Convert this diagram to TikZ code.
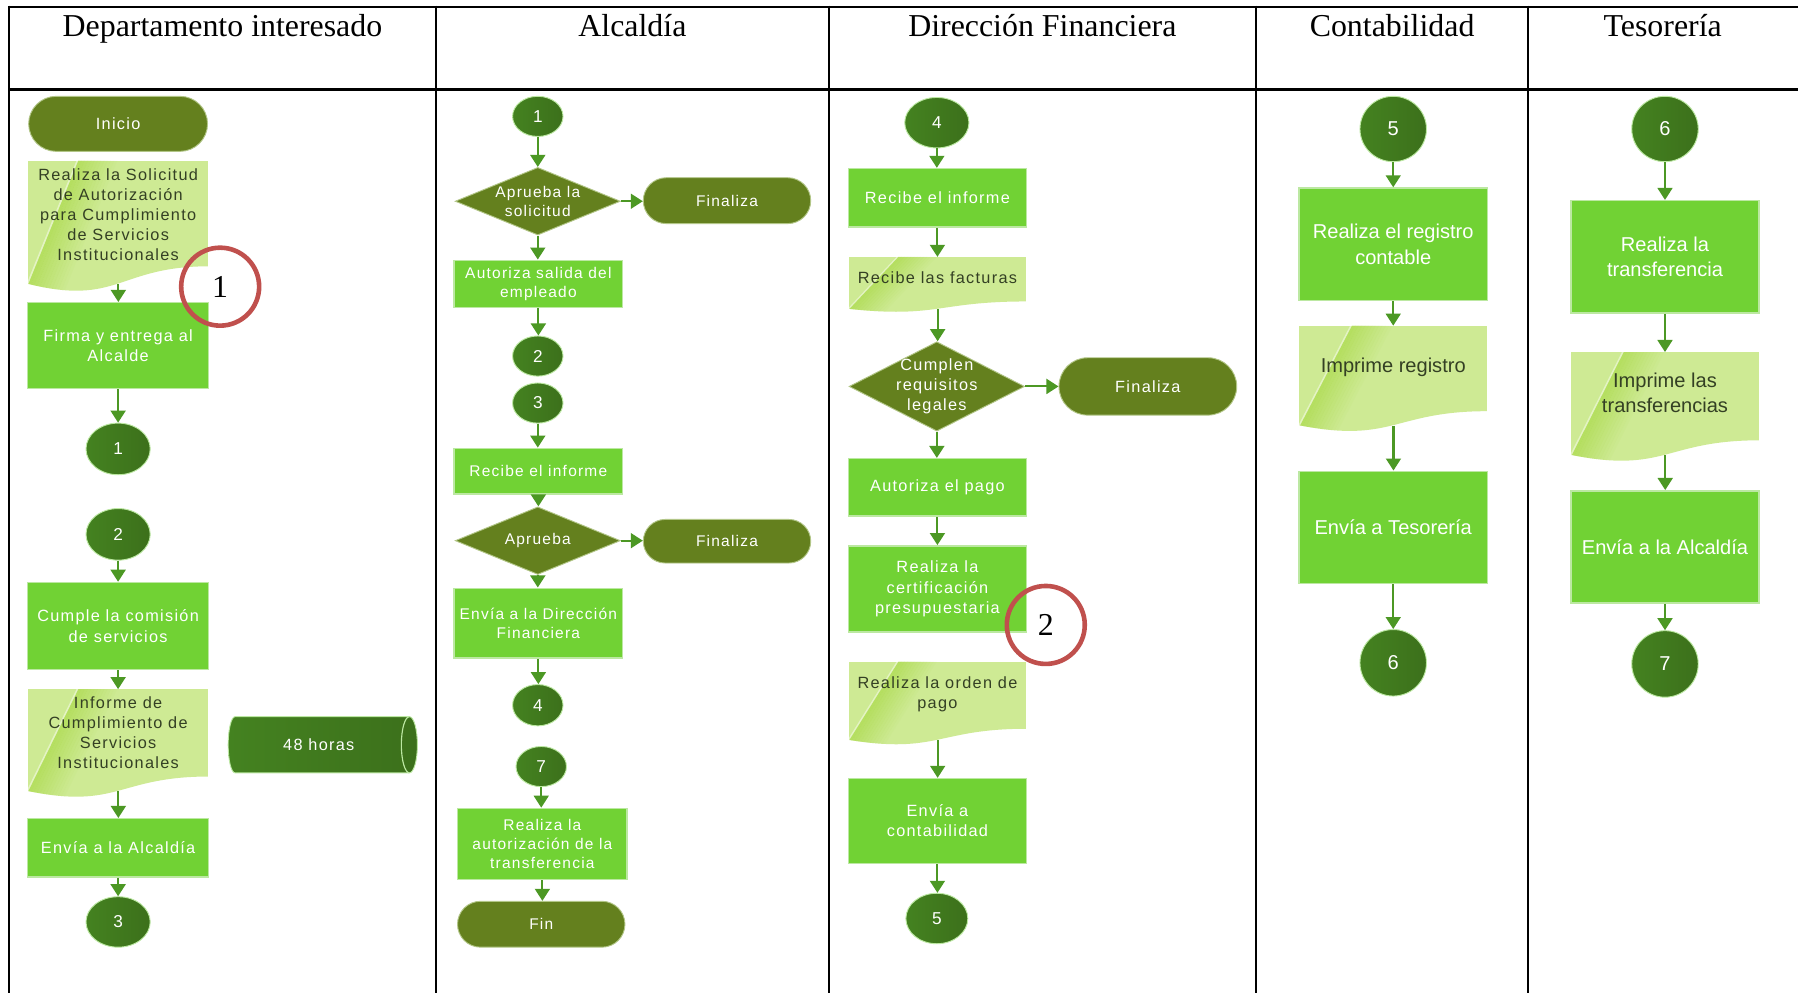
\documentclass[tikz,border=0pt]{standalone}
\usepackage{fontspec}
\setmainfont{Liberation Serif}
\newfontfamily\spacedsans[LetterSpace=8]{Liberation Sans}
\newfontfamily\plainsans{Liberation Sans}
\usetikzlibrary{shapes.geometric,shapes.misc,arrows.meta}

\definecolor{boxgreen}{RGB}{113,210,52}
\definecolor{boxedge}{RGB}{188,232,162}
\definecolor{olive}{RGB}{100,128,30}
\definecolor{oliveedge}{RGB}{178,198,135}
\definecolor{conndark}{RGB}{60,112,27}
\definecolor{connlight}{RGB}{84,154,38}
\definecolor{connmid}{RGB}{68,130,32}
\definecolor{docfill}{RGB}{206,234,148}
\definecolor{docstreak}{RGB}{162,214,56}
\definecolor{doctext}{RGB}{52,64,36}
\definecolor{arrowgreen}{RGB}{76,152,36}
\definecolor{ringred}{RGB}{192,80,77}

\tikzset{
  lane/.style={line width=2.2pt, draw=black},
  head/.style={font=\fontsize{27.8}{30}\selectfont, anchor=base, inner sep=0pt},
  fa/.style={font=\spacedsans\fontsize{14.2}{17.5}\selectfont},
  fb/.style={font=\spacedsans\fontsize{13.5}{16.5}\selectfont},
  fc/.style={font=\plainsans\fontsize{17.5}{22}\selectfont},
  fn/.style={font=\plainsans\fontsize{15}{18}\selectfont},
  proc/.style={rectangle, draw=boxedge, line width=1.3pt, fill=boxgreen,
    text=white, align=center, inner sep=0pt},
  term/.style={rounded rectangle, draw=oliveedge, line width=0.8pt, fill=olive,
    text=white, inner sep=0pt},
  decision/.style={diamond, draw=oliveedge, line width=0.8pt, fill=olive, inner sep=0pt},
  conn/.style={ellipse, draw=boxedge, line width=0.8pt, left color=connmid,
    middle color=connlight, right color=conndark, text=white, inner sep=0pt},
  wlabel/.style={text=white, align=center, inner sep=0pt},
  dlabel/.style={text=doctext, align=center, inner sep=0pt},
  arr/.style={draw=arrowgreen, line width=1.8pt, -{Triangle[width=13pt,length=10.5pt]}},
  ring/.style={circle, draw=ringred, line width=4pt, minimum size=68pt,
    inner sep=0pt, font=\fontsize{27.8}{30}\selectfont}
}

% document symbol: name, left, top, width, height
\newcommand\docshape[5]{%
  \begin{scope}
    \clip (#2,#3) -- ({#2+#4},#3) -- ({#2+#4},{#3+0.802*#5})
      .. controls ({#2+0.5*#4},{#3+0.802*#5}) and ({#2+0.5*#4},{#3+1.107*#5})
      .. (#2,{#3+0.934*#5}) -- cycle;
    \fill[docfill] (#2,#3) rectangle ({#2+#4},{#3+#5});
    \begin{scope}[shift={(#2,#3)}, xslant={0.28*#4/(0.95*#5)}]
      \foreach \k in {0,...,11} {
        \pgfmathsetmacro\op{0.55*(1-\k/12)}
        \fill[docstreak, opacity=\op] ({0.28*#4+\k*0.018*#4},-5) rectangle ({0.28*#4+(\k+1)*0.018*#4},{#5+5});
      }
      \fill[white, opacity=0.45] ({0.28*#4-1.5},-5) rectangle ({0.28*#4},{#5+5});
    \end{scope}
  \end{scope}
  \node[inner sep=0pt, minimum width=#4pt, minimum height={0.933*#5pt}, anchor=north west] (#1) at (#2,#3) {};
}
\newcommand\down[2]{\draw[arr] (#1.south) -- (#1.south |- #2.north);}
\newcommand\across[2]{\draw[arr] (#1.east) -- (#1.east -| #2.west);}

\begin{document}
\begin{tikzpicture}[x=1pt, y=-1pt]
\useasboundingbox (0,0) rectangle (1568,866);
\fill[white] (0,0) rectangle (1568,866);

% table frame
\draw[lane] (7.8,6) -- (1568,6);
\draw[lane] (7.8,78) -- (1568,78);
\foreach \xx in {7.8,380.2,723,1095.3,1332.6} \draw[lane] (\xx,5) -- (\xx,866);

\node[head] (h1) at (194,32) {Departamento interesado};
\node[head] (h2) at (551.5,32) {Alcaldía};
\node[head] (h3) at (909,32) {Dirección Financiera};
\node[head] (h4) at (1214,32) {Contabilidad};
\node[head] (h5) at (1450,32) {Tesorería};

% ---------- Departamento interesado ----------
\node[term, fa, minimum width=156pt, minimum height=48pt] (inicio) at (103,108) {Inicio};
\docshape{dsol}{24}{140}{158}{115}
\node[dlabel, fa] (dsolt) at (103,187) {Realiza la Solicitud\\de Autorización\\para Cumplimiento\\de Servicios\\Institucionales};
\node[proc, fa, minimum width=158pt, minimum height=75pt] (firma) at (103,301.5) {Firma y entrega al\\Alcalde};
\node[conn, fn, minimum width=56pt, minimum height=45pt] (c1a) at (103,391.5) {1};
\node[conn, fn, minimum width=56pt, minimum height=45pt] (c2a) at (103,466) {2};
\node[proc, fa, minimum width=158pt, minimum height=76pt] (cumple) at (103,546) {Cumple la comisión\\de servicios};
\docshape{dinf}{24}{601}{158}{95}
\node[dlabel, fa] (dinft) at (103,639) {Informe de\\Cumplimiento de\\Servicios\\Institucionales};
\path[draw=boxedge, line width=0.8pt, left color=connmid, middle color=connlight, right color=conndark]
  (205,625) -- (357,625) arc[start angle=90, end angle=-90, x radius=7pt, y radius=24.5pt]
  -- (205,674) arc[start angle=-90, end angle=-270, x radius=6pt, y radius=24.5pt] -- cycle;
\draw[boxedge, line width=1pt] (357,625) arc[start angle=90, end angle=270, x radius=7pt, y radius=24.5pt];
\node[wlabel, fa] (horas) at (278,649.5) {48 horas};
\node[proc, fa, minimum width=158pt, minimum height=51pt] (envia1) at (103,739.5) {Envía a la Alcaldía};
\node[conn, fn, minimum width=56pt, minimum height=44pt] (c3a) at (103,804) {3};

\down{dsol}{firma}
\down{firma}{c1a}
\down{c2a}{cumple}
\down{cumple}{dinf}
\down{dinf}{envia1}
\down{envia1}{c3a}

\node[ring] (ring1) at (192,250) {1};

% ---------- Alcaldía ----------
\node[conn, fn, minimum width=44pt, minimum height=35pt] (c1b) at (469,101.5) {1};
\node[decision, minimum width=144pt, minimum height=59pt] (ap1) at (469,175.5) {};
\node[wlabel, fb] (ap1t) at (469,175.5) {Aprueba la\\solicitud};
\node[term, fb, minimum width=146pt, minimum height=40pt] (fin1) at (634,175) {Finaliza};
\node[proc, fb, minimum width=147pt, minimum height=41pt] (aut) at (469.5,247.5) {Autoriza salida del\\empleado};
\node[conn, fn, minimum width=44pt, minimum height=35pt] (c2b) at (469,310.5) {2};
\node[conn, fn, minimum width=44pt, minimum height=35pt] (c3b) at (469,351.5) {3};
\node[proc, fb, minimum width=147pt, minimum height=40pt] (rec2) at (469.5,411) {Recibe el informe};
\node[decision, minimum width=144pt, minimum height=59pt] (ap2) at (469,471.5) {};
\node[wlabel, fb] (ap2t) at (469,471.5) {Aprueba};
\node[term, fb, minimum width=146pt, minimum height=38pt] (fin2) at (634,472) {Finaliza};
\node[proc, fb, minimum width=147pt, minimum height=61pt] (envDF) at (469.5,543.5) {Envía a la Dirección\\Financiera};
\node[conn, fn, minimum width=44pt, minimum height=36pt] (c4b) at (469,615) {4};
\node[conn, fn, minimum width=44pt, minimum height=35pt] (c7b) at (472,668.5) {7};
\node[proc, fb, minimum width=148pt, minimum height=62pt] (raut) at (473,736) {Realiza la\\autorización de la\\transferencia};
\node[term, fb, minimum width=146pt, minimum height=40pt] (fin) at (472,806) {Fin};

\down{c1b}{ap1}
\across{ap1}{fin1}
\down{ap1}{aut}
\down{aut}{c2b}
\down{c3b}{rec2}
\down{rec2}{ap2}
\across{ap2}{fin2}
\down{ap2}{envDF}
\down{envDF}{c4b}
\down{c7b}{raut}
\down{raut}{fin}

% ---------- Dirección Financiera ----------
\node[conn, fn, minimum width=56pt, minimum height=44pt] (c4c) at (817,107) {4};
\node[proc, fa, minimum width=155pt, minimum height=51pt] (rec3) at (817.5,172.5) {Recibe el informe};
\docshape{dfac}{740}{224}{155}{48.5}
\node[dlabel, fa] (dfact) at (817.5,242) {Recibe las facturas};
\node[decision, minimum width=153pt, minimum height=78pt] (cum) at (817,337) {};
\node[wlabel, fa] (cumt) at (817,337) {Cumplen\\requisitos\\legales};
\node[term, fa, minimum width=155pt, minimum height=50pt] (fin3) at (1001,337) {Finaliza};
\node[proc, fa, minimum width=155pt, minimum height=50pt] (autp) at (817.5,425) {Autoriza el pago};
\node[proc, fa, minimum width=155pt, minimum height=75pt] (cert) at (817.5,513.5) {Realiza la\\certificación\\presupuestaria};
\docshape{dord}{740}{577}{155}{73}
\node[dlabel, fa] (dordt) at (817.5,605.5) {Realiza la orden de\\pago};
\node[proc, fa, minimum width=155pt, minimum height=74pt] (envc) at (817.5,716) {Envía a\\contabilidad};
\node[conn, fn, minimum width=54pt, minimum height=44pt] (c5c) at (817,801) {5};

\down{c4c}{rec3}
\down{rec3}{dfac}
\down{dfac}{cum}
\across{cum}{fin3}
\down{cum}{autp}
\down{autp}{cert}
\down{dord}{envc}
\down{envc}{c5c}

\node[ring] (ring2) at (912,545) {2};

% ---------- Contabilidad ----------
\node[conn, fc, minimum width=58pt, minimum height=57pt] (c5d) at (1215,112.5) {5};
\node[proc, fc, minimum width=164pt, minimum height=98pt] (reg) at (1215,213) {Realiza el registro\\contable};
\docshape{dimp}{1133}{284}{164}{93}
\node[dlabel, fc] (dimpt) at (1215,320) {Imprime registro};
\node[proc, fc, minimum width=164pt, minimum height=98pt] (envt) at (1215,460) {Envía a Tesorería};
\node[conn, fc, minimum width=58pt, minimum height=58pt] (c6d) at (1215,578) {6};

\down{c5d}{reg}
\down{reg}{dimp}
\down{dimp}{envt}
\down{envt}{c6d}

% ---------- Tesorería ----------
\node[conn, fc, minimum width=58pt, minimum height=57pt] (c6e) at (1452,112.5) {6};
\node[proc, fc, minimum width=164pt, minimum height=98pt] (tra) at (1452,224) {Realiza la\\transferencia};
\docshape{dimpl}{1370}{307}{164}{96}
\node[dlabel, fc] (dimplt) at (1452,342.5) {Imprime las\\transferencias};
\node[proc, fc, minimum width=164pt, minimum height=98pt] (enva) at (1452,477) {Envía a la Alcaldía};
\node[conn, fc, minimum width=58pt, minimum height=58pt] (c7e) at (1452,579) {7};

\down{c6e}{tra}
\down{tra}{dimpl}
\down{dimpl}{enva}
\down{enva}{c7e}
\end{tikzpicture}
\end{document}
